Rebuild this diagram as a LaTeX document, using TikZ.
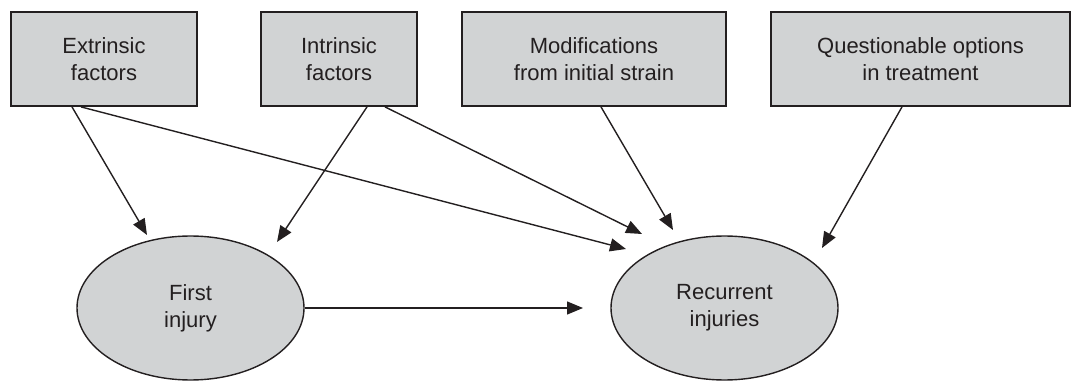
\documentclass[tikz,border=0pt]{standalone}
\usepackage{fontspec}
\setmainfont{Liberation Sans}
\usetikzlibrary{arrows.meta,shapes.geometric}
\definecolor{boxfill}{HTML}{D1D3D4}
\definecolor{ink}{HTML}{231F20}
\tikzset{
  factor/.style={draw=ink, line width=1.8pt, fill=boxfill, rectangle, inner sep=0pt,
    minimum height=94pt, align=center, text=ink, font=\fontsize{22}{27}\selectfont},
  outcome/.style={draw=ink, line width=1.4pt, fill=boxfill, ellipse, inner sep=0pt,
    minimum width=227pt, minimum height=144pt, align=center, text=ink, font=\fontsize{22}{27}\selectfont},
  arr/.style={draw=ink, line width=1.4pt, -{Triangle[length=16pt,width=13pt]}}
}
\begin{document}
\begin{tikzpicture}[x=1pt,y=1pt]
\useasboundingbox (0,0) rectangle (1072,381);
% factor boxes
\node[factor, minimum width=186pt] (ext) at (104,322) {Extrinsic\\factors};
\node[factor, minimum width=156pt] (int) at (339,322) {Intrinsic\\factors};
\node[factor, minimum width=264pt] (mod) at (594,322) {Modifications\\from initial strain};
\node[factor, minimum width=299pt] (quest) at (920.5,322) {Questionable options\\in treatment};
% outcomes
\node[outcome] (first) at (190.5,73) {First\\injury};
\node[outcome] (rec) at (724.5,73) {Recurrent\\injuries};
% arrow tips
\coordinate (e1t) at (147,146);
\coordinate (e2t) at (626,132);
\coordinate (i1t) at (277,139);
\coordinate (i2t) at (642,147);
\coordinate (mt) at (673,151);
\coordinate (qt) at (822,133);
\coordinate (ht) at (583,73);
% connectors
\draw[arr] ([xshift=-32pt]ext.south) -- (e1t);
\draw[arr] ([xshift=-23pt]ext.south) -- (e2t);
\draw[arr] ([xshift=28pt]int.south) -- (i1t);
\draw[arr] ([xshift=46pt]int.south) -- (i2t);
\draw[arr] ([xshift=7pt]mod.south) -- (mt);
\draw[arr] ([xshift=-18.5pt]quest.south) -- (qt);
\draw[arr] (first.east) -- (ht);
\end{tikzpicture}
\end{document}
